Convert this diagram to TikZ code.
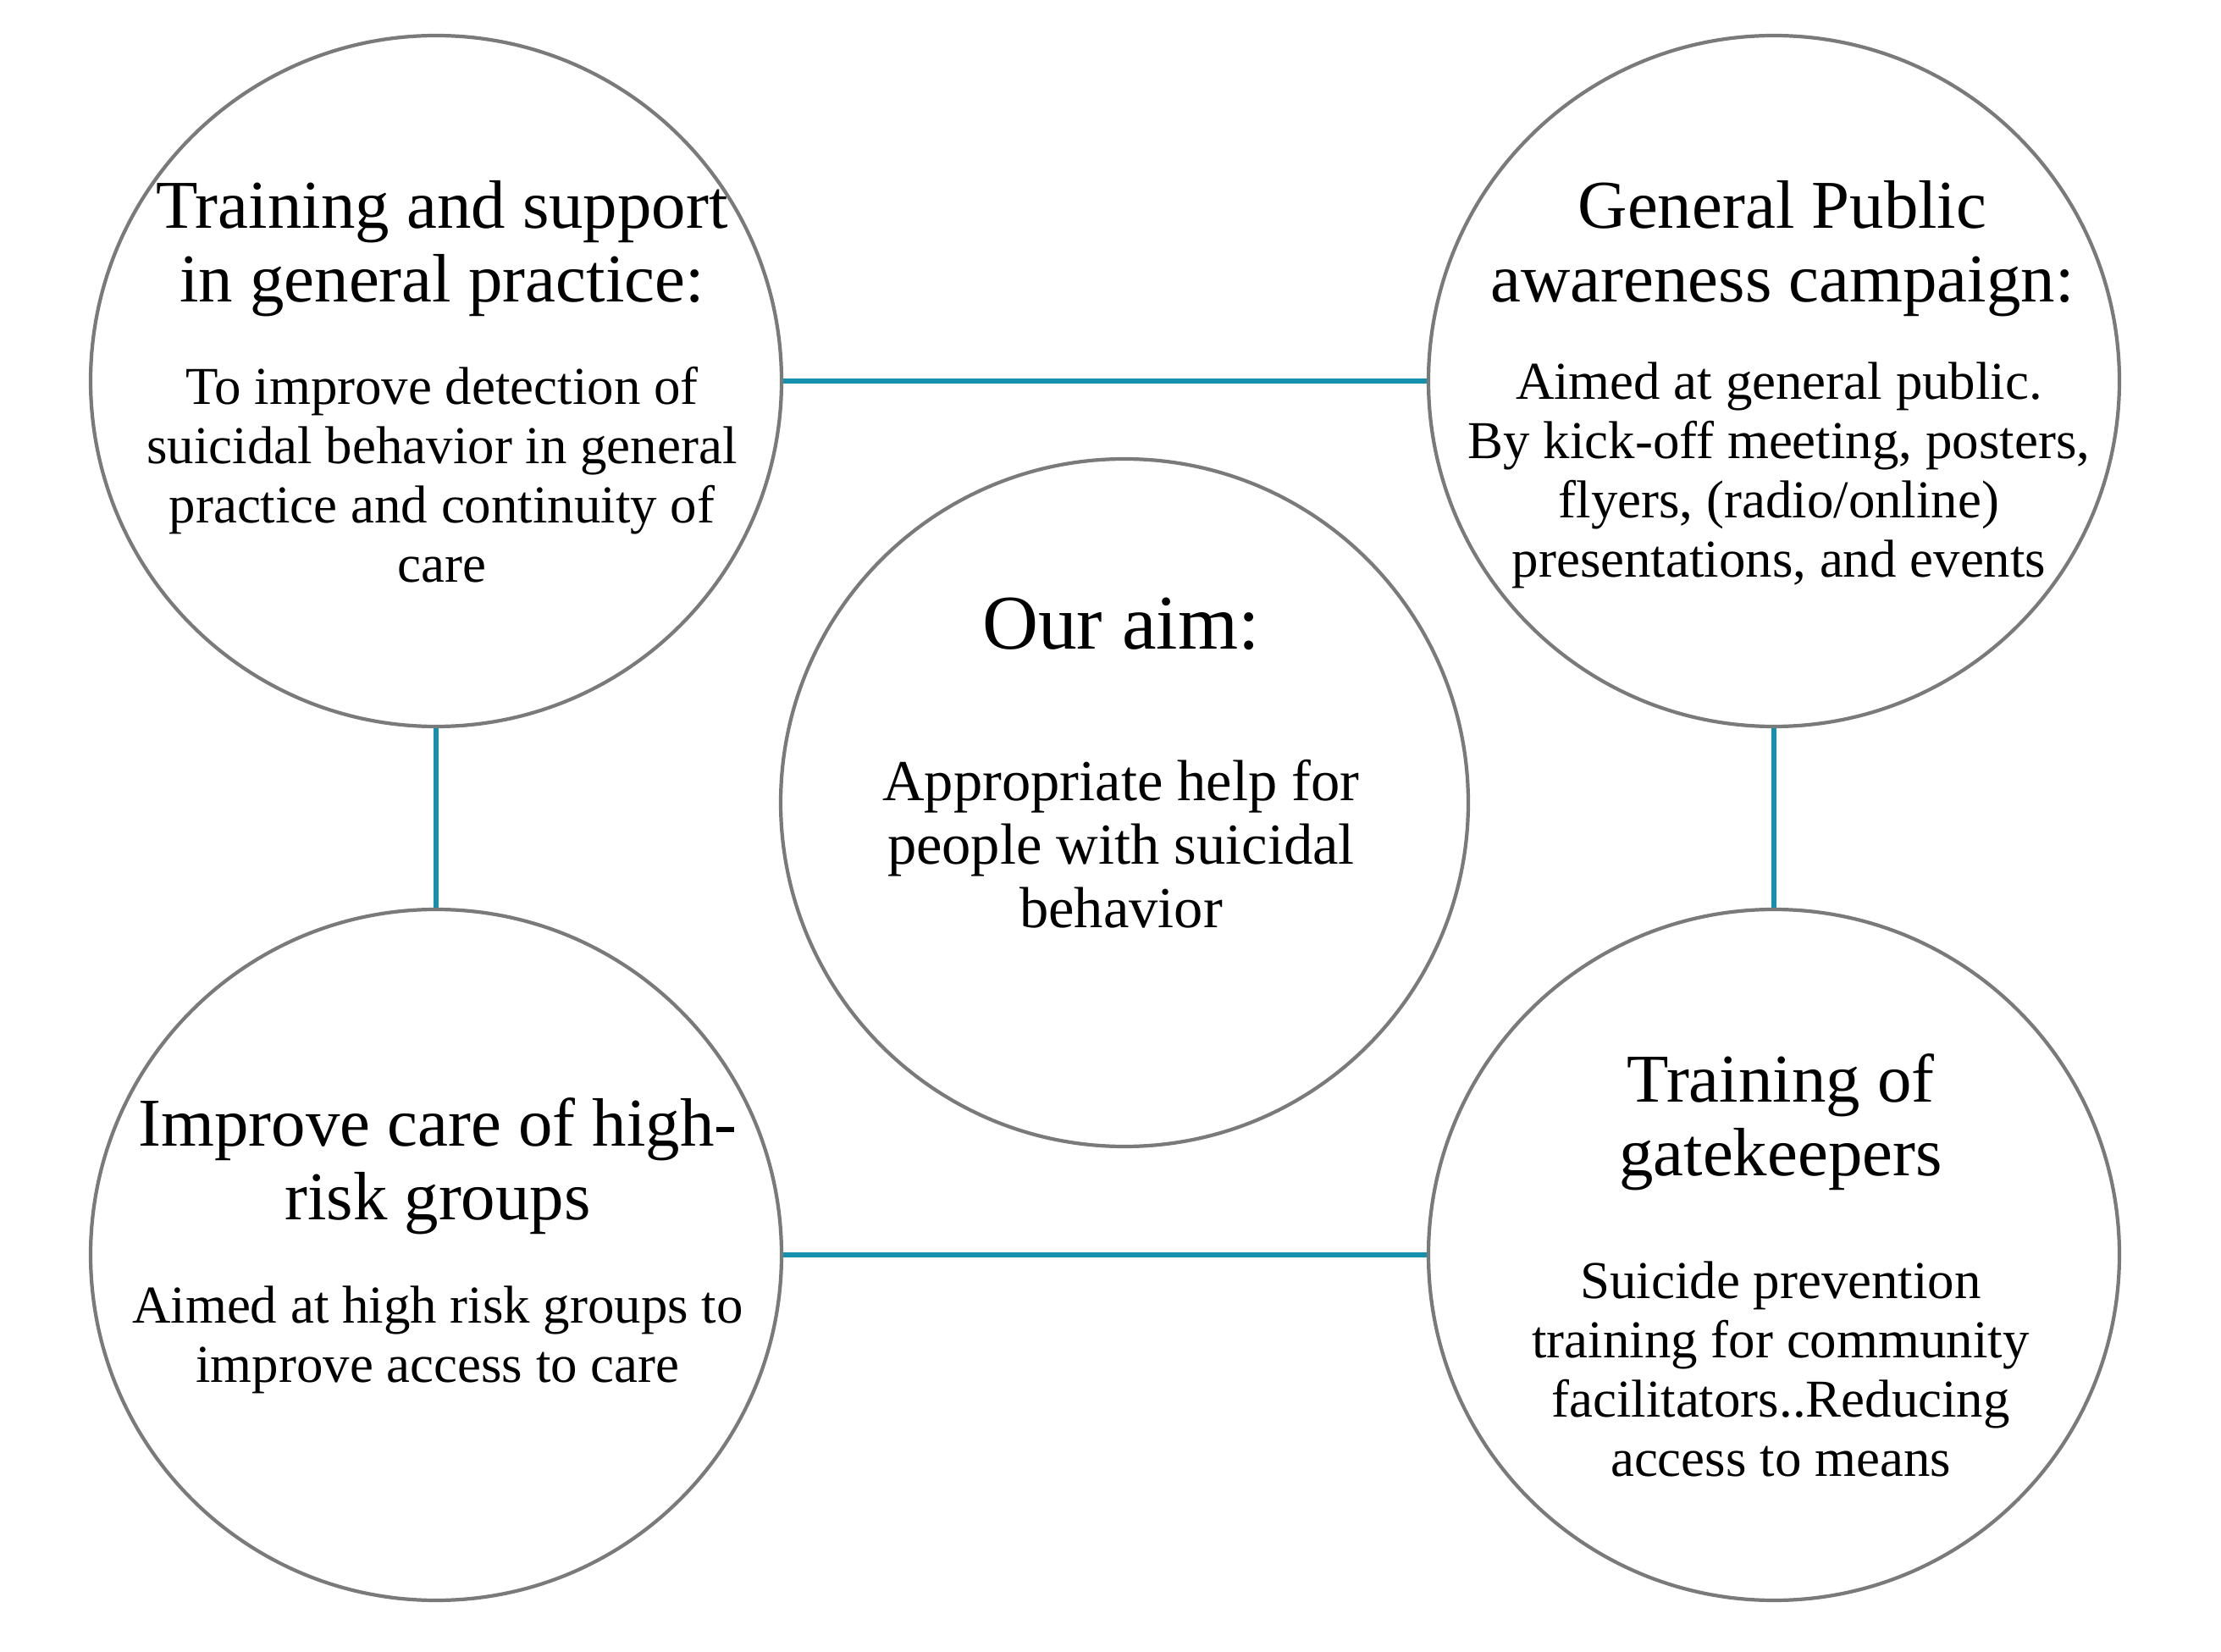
\documentclass[tikz,border=0pt]{standalone}
\usepackage{fontspec}
\setmainfont{Liberation Serif}
\usepackage{tikz}
\usepackage{xcolor}

\begin{document}
\begin{tikzpicture}[
    ring/.style={circle, draw=RingGray, line width=1.2pt, inner sep=0pt, minimum size=8.16cm},
    heading/.style={align=center, font=\fontsize{23}{24.7}\selectfont},
    blurb/.style={align=center, font=\fontsize{17.9}{19.9}\selectfont},
    link/.style={draw=LinkBlue, line width=1.7pt}]
    \definecolor{RingGray}{HTML}{7A7A7A}
    \definecolor{LinkBlue}{HTML}{1591AD}
    \useasboundingbox (0,0) rectangle (26.23,19.5);
    \coordinate (A) at (5.15,15.00);
    \coordinate (B) at (20.95,15.00);
    \coordinate (C) at (20.95,4.68);
    \coordinate (D) at (5.15,4.68);
    \coordinate (M) at (13.28,10.02);
    \foreach \corner in {A, B, C, D}{
        \node[ring] (ring\corner) at (\corner) {};
    }
    \node[ring, minimum size=8.12cm] (ringM) at (M) {};
    % links between the outer rings
    \draw[link] (ringA.east) -- (ringB.west);
    \draw[link] (ringD.east) -- (ringC.west);
    \draw[link] (ringA.south) -- (ringD.north);
    \draw[link] (ringB.south) -- (ringC.north);
    % texts
    \node[heading] (practice) at (5.22,16.56) {Training and support\\in general practice:};
    \node[blurb] (practicetext) at (5.22,13.89) {To improve detection of\\suicidal behavior in general\\practice and continuity of\\care};
    \node[heading] (public) at (21.05,16.56) {General Public\\awareness campaign:};
    \node[blurb] (publictext) at (21.01,13.89) {Aimed at general public.\\By kick-off meeting, posters,\\flyers, (radio/online)\\presentations, and events};
    \node[heading] (gatekeepers) at (21.03,6.245) {Training of\\gatekeepers};
    \node[blurb] (gatekeeperstext) at (21.03,3.33) {Suicide prevention\\training for community\\facilitators..Reducing\\access to means};
    \node[heading] (risk) at (5.17,5.725) {Improve care of high-\\risk groups};
    \node[blurb] (risktext) at (5.17,3.68) {Aimed at high risk groups to\\improve access to care};
    \node[font=\fontsize{26}{30}\selectfont] (aim) at (13.24,12.13) {Our aim:};
    \node[align=center, font=\fontsize{19.5}{21.3}\selectfont] (aimtext) at (13.24,9.53) {Appropriate help for\\people with suicidal\\behavior};
\end{tikzpicture}
\end{document}
